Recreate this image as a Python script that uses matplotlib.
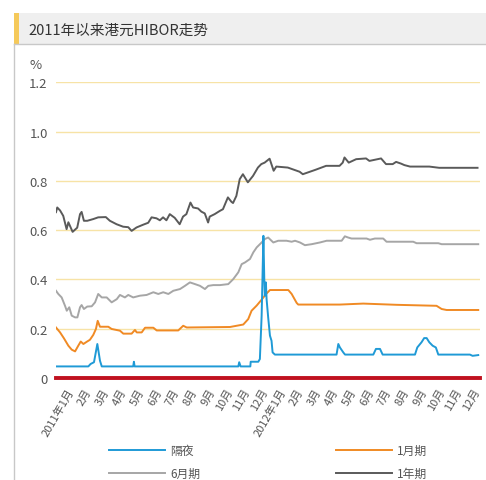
import matplotlib
matplotlib.use("Agg")
import matplotlib.pyplot as plt
from matplotlib.patches import Rectangle
from matplotlib.lines import Line2D

plt.rcParams['font.family'] = ['Noto Sans CJK SC', 'DejaVu Sans']

# x values are months since 2011-01-01 (0 .. 24)
month_labels = ['2011年1月', '2月', '3月', '4月', '5月', '6月', '7月', '8月', '9月', '10月', '11月', '12月',
                '2012年1月', '2月', '3月', '4月', '5月', '6月', '7月', '8月', '9月', '10月', '11月', '12月']

# overnight
on_x = [0.0, 1.83, 1.96, 2.15, 2.34, 2.49, 2.59, 4.37, 4.41, 4.45, 10.32, 10.37, 10.45, 11.0, 11.02,
        11.45, 11.54, 11.64, 11.74, 11.79, 11.82, 11.88, 11.92, 12.01, 12.11, 12.2, 12.26, 12.39,
        15.88, 15.98, 16.07, 16.26, 16.36, 17.96, 18.11, 18.34, 18.49, 20.32, 20.45, 20.69, 20.84,
        20.98, 21.13, 21.32, 21.5, 21.64, 23.43, 23.58, 23.9]
on_y = [0.047, 0.047, 0.057, 0.064, 0.138, 0.070, 0.047, 0.047, 0.066, 0.047, 0.047, 0.064, 0.047, 0.047, 0.066,
        0.066, 0.077, 0.253, 0.577, 0.401, 0.334, 0.388, 0.320, 0.246, 0.172, 0.151, 0.104, 0.095,
        0.095, 0.138, 0.124, 0.104, 0.095, 0.095, 0.118, 0.118, 0.095, 0.095, 0.124, 0.145, 0.162,
        0.162, 0.145, 0.131, 0.124, 0.095, 0.095, 0.090, 0.093]

# 1 month
m1_x = [0.0, 0.23, 0.45, 0.7, 0.89, 1.08, 1.26, 1.4, 1.55, 1.74, 1.92, 2.11, 2.26, 2.36, 2.49, 2.96,
        3.15, 3.62, 3.81, 4.28, 4.47, 4.57, 4.85, 5.04, 5.51, 5.7, 6.92, 7.2, 7.4, 9.85, 10.6, 10.88,
        11.07, 11.36, 11.64, 11.92, 12.11, 13.15, 13.34, 13.62, 13.71, 16.07, 17.39, 19.28, 21.54,
        21.83, 22.11, 23.9]
m1_y = [0.205, 0.185, 0.161, 0.131, 0.115, 0.108, 0.131, 0.148, 0.138, 0.147, 0.155, 0.175, 0.199, 0.232, 0.208, 0.208,
        0.199, 0.192, 0.180, 0.180, 0.195, 0.185, 0.185, 0.204, 0.204, 0.193, 0.193, 0.212, 0.205, 0.207, 0.217, 0.239,
        0.273, 0.294, 0.318, 0.343, 0.357, 0.357, 0.341, 0.305, 0.298, 0.298, 0.302, 0.297, 0.293,
        0.280, 0.276, 0.276]

# 6 months
m6_x = [0.0, 0.13, 0.32, 0.51, 0.61, 0.75, 0.89, 1.08, 1.21, 1.36, 1.45, 1.58, 1.77, 2.02, 2.21, 2.39,
        2.59, 2.87, 3.15, 3.44, 3.62, 3.9, 4.09, 4.37, 4.75, 5.13, 5.51, 5.79, 6.07, 6.36, 6.64, 7.02,
        7.3, 7.58, 7.87, 8.15, 8.43, 8.62, 8.9, 9.28, 9.75, 10.03, 10.32, 10.51, 10.7, 10.98, 11.17,
        11.36, 11.64, 11.82, 12.01, 12.3, 12.58, 13.05, 13.34, 13.53, 13.81, 14.09, 14.47, 14.94, 15.32,
        16.17, 16.35, 16.54, 16.73, 17.58, 17.77, 18.05, 18.52, 18.71, 20.22, 20.41, 21.64, 21.83, 23.9]
m6_y = [0.354, 0.341, 0.327, 0.293, 0.273, 0.287, 0.253, 0.246, 0.246, 0.287, 0.296, 0.280, 0.290, 0.291, 0.307, 0.341,
        0.327, 0.327, 0.307, 0.320, 0.337, 0.327, 0.337, 0.327, 0.334, 0.337, 0.348, 0.341, 0.348, 0.341, 0.354, 0.361,
        0.374, 0.388, 0.381, 0.374, 0.361, 0.374, 0.377, 0.377, 0.381, 0.401, 0.429, 0.462, 0.469, 0.483, 0.510,
        0.530, 0.550, 0.564, 0.570, 0.550, 0.557, 0.557, 0.553, 0.557, 0.550, 0.539, 0.543, 0.550, 0.557,
        0.557, 0.575, 0.570, 0.566, 0.566, 0.561, 0.566, 0.566, 0.553, 0.553, 0.547, 0.547, 0.543, 0.543]

# 1 year
y1_x = [0.0, 0.07, 0.23, 0.41, 0.6, 0.7, 0.94, 1.2, 1.36, 1.45, 1.58, 1.77, 2.11, 2.39, 2.82, 3.05,
        3.43, 3.8, 4.09, 4.28, 4.56, 4.93, 5.22, 5.41, 5.69, 5.88, 6.06, 6.25, 6.44, 6.72, 7.0, 7.19,
        7.38, 7.61, 7.76, 8.04, 8.23, 8.42, 8.61, 8.7, 8.98, 9.27, 9.45, 9.73, 9.93, 10.02, 10.21,
        10.4, 10.58, 10.86, 11.15, 11.43, 11.62, 11.81, 12.09, 12.32, 12.47, 13.12, 13.79, 13.97,
        14.69, 15.29, 16.05, 16.23, 16.33, 16.57, 16.99, 17.55, 17.74, 18.4, 18.68, 19.06, 19.25,
        19.53, 19.72, 20.04, 20.38, 21.13, 21.69, 23.86]
y1_y = [0.673, 0.692, 0.680, 0.658, 0.604, 0.632, 0.593, 0.610, 0.665, 0.674, 0.638, 0.638, 0.645, 0.652, 0.653, 0.638,
        0.624, 0.614, 0.612, 0.597, 0.611, 0.622, 0.630, 0.652, 0.648, 0.640, 0.652, 0.640, 0.665, 0.650, 0.624, 0.655,
        0.665, 0.712, 0.692, 0.688, 0.675, 0.668, 0.631, 0.655, 0.665, 0.678, 0.685, 0.733, 0.715, 0.710, 0.739,
        0.807, 0.827, 0.794, 0.820, 0.854, 0.868, 0.874, 0.890, 0.841, 0.858, 0.854, 0.837, 0.827,
        0.845, 0.861, 0.861, 0.874, 0.895, 0.874, 0.888, 0.891, 0.881, 0.891, 0.868, 0.868, 0.877,
        0.870, 0.864, 0.858, 0.858, 0.858, 0.853, 0.853]

c_on = '#1f9ad6'
c_m1 = '#f08a24'
c_m6 = '#a6a6a6'
c_y1 = '#5a5a5a'
txt = '#555555'

fig = plt.figure(figsize=(4.86, 4.81), dpi=100)

# title bar
W, H = 486.0, 481.0
fig.patches.append(Rectangle((14 / W, 1 - 45 / H), 1, 31 / H, transform=fig.transFigure,
                             facecolor='#efefef', edgecolor='none', zorder=0))
fig.patches.append(Rectangle((14 / W, 1 - 45 / H), 5 / W, 31 / H, transform=fig.transFigure,
                             facecolor='#f5c95a', edgecolor='none', zorder=1))
fig.lines.append(Line2D([14 / W, 1], [1 - 45 / H, 1 - 45 / H], transform=fig.transFigure,
                        color='#c8c8c8', lw=1))
fig.lines.append(Line2D([14 / W, 14 / W], [0, 1 - 45 / H], transform=fig.transFigure,
                        color='#c8c8c8', lw=1))
fig.text(28 / W, 1 - 31 / H, '2011年以来港元HIBOR走势', fontsize=10.5, color='#333333', va='center')

ax = fig.add_axes([56 / W, 1 - 379 / H, 424 / W, 295.7 / H])
ax.plot(y1_x, y1_y, color=c_y1, lw=1.4, label='1年期')
ax.plot(m6_x, m6_y, color=c_m6, lw=1.4, label='6月期')
ax.plot(m1_x, m1_y, color=c_m1, lw=1.4, label='1月期')
ax.plot(on_x, on_y, color=c_on, lw=1.4, label='隔夜')
ax.axhline(0, color='#c0121f', lw=2.8, clip_on=False, zorder=5)

ax.set_xlim(0, 24)
ax.set_ylim(0, 1.2)
ax.set_yticks([0, 0.2, 0.4, 0.6, 0.8, 1.0, 1.2])
ax.set_yticklabels(['0', '0.2', '0.4', '0.6', '0.8', '1.0', '1.2'])
ax.grid(axis='y', color='#f7e3a6', lw=1)
ax.set_axisbelow(True)
for s in ax.spines.values():
    s.set_visible(False)
ax.tick_params(axis='y', length=0, pad=6, labelsize=9.5, labelcolor=txt)
ax.set_xticks([i + 0.6 for i in range(24)])
ax.set_xticklabels(month_labels, rotation=60, ha='right', rotation_mode='anchor', fontsize=8, color=txt)
ax.tick_params(axis='x', length=0, pad=6)
ax.text(-0.035, 1.06, '%', transform=ax.transAxes, fontsize=9.5, color=txt, ha='right', va='center')

h, l = ax.get_legend_handles_labels()
order = [3, 1, 2, 0]
fig.legend([h[i] for i in order], [l[i] for i in order], ncol=2, loc='center left',
           bbox_to_anchor=(98 / W, 1 - 463 / H), frameon=False, fontsize=8.5, labelcolor=txt,
           handlelength=4.8, handletextpad=0.4, columnspacing=11.5, labelspacing=0.8)

fig.savefig('out.png', dpi=100)
